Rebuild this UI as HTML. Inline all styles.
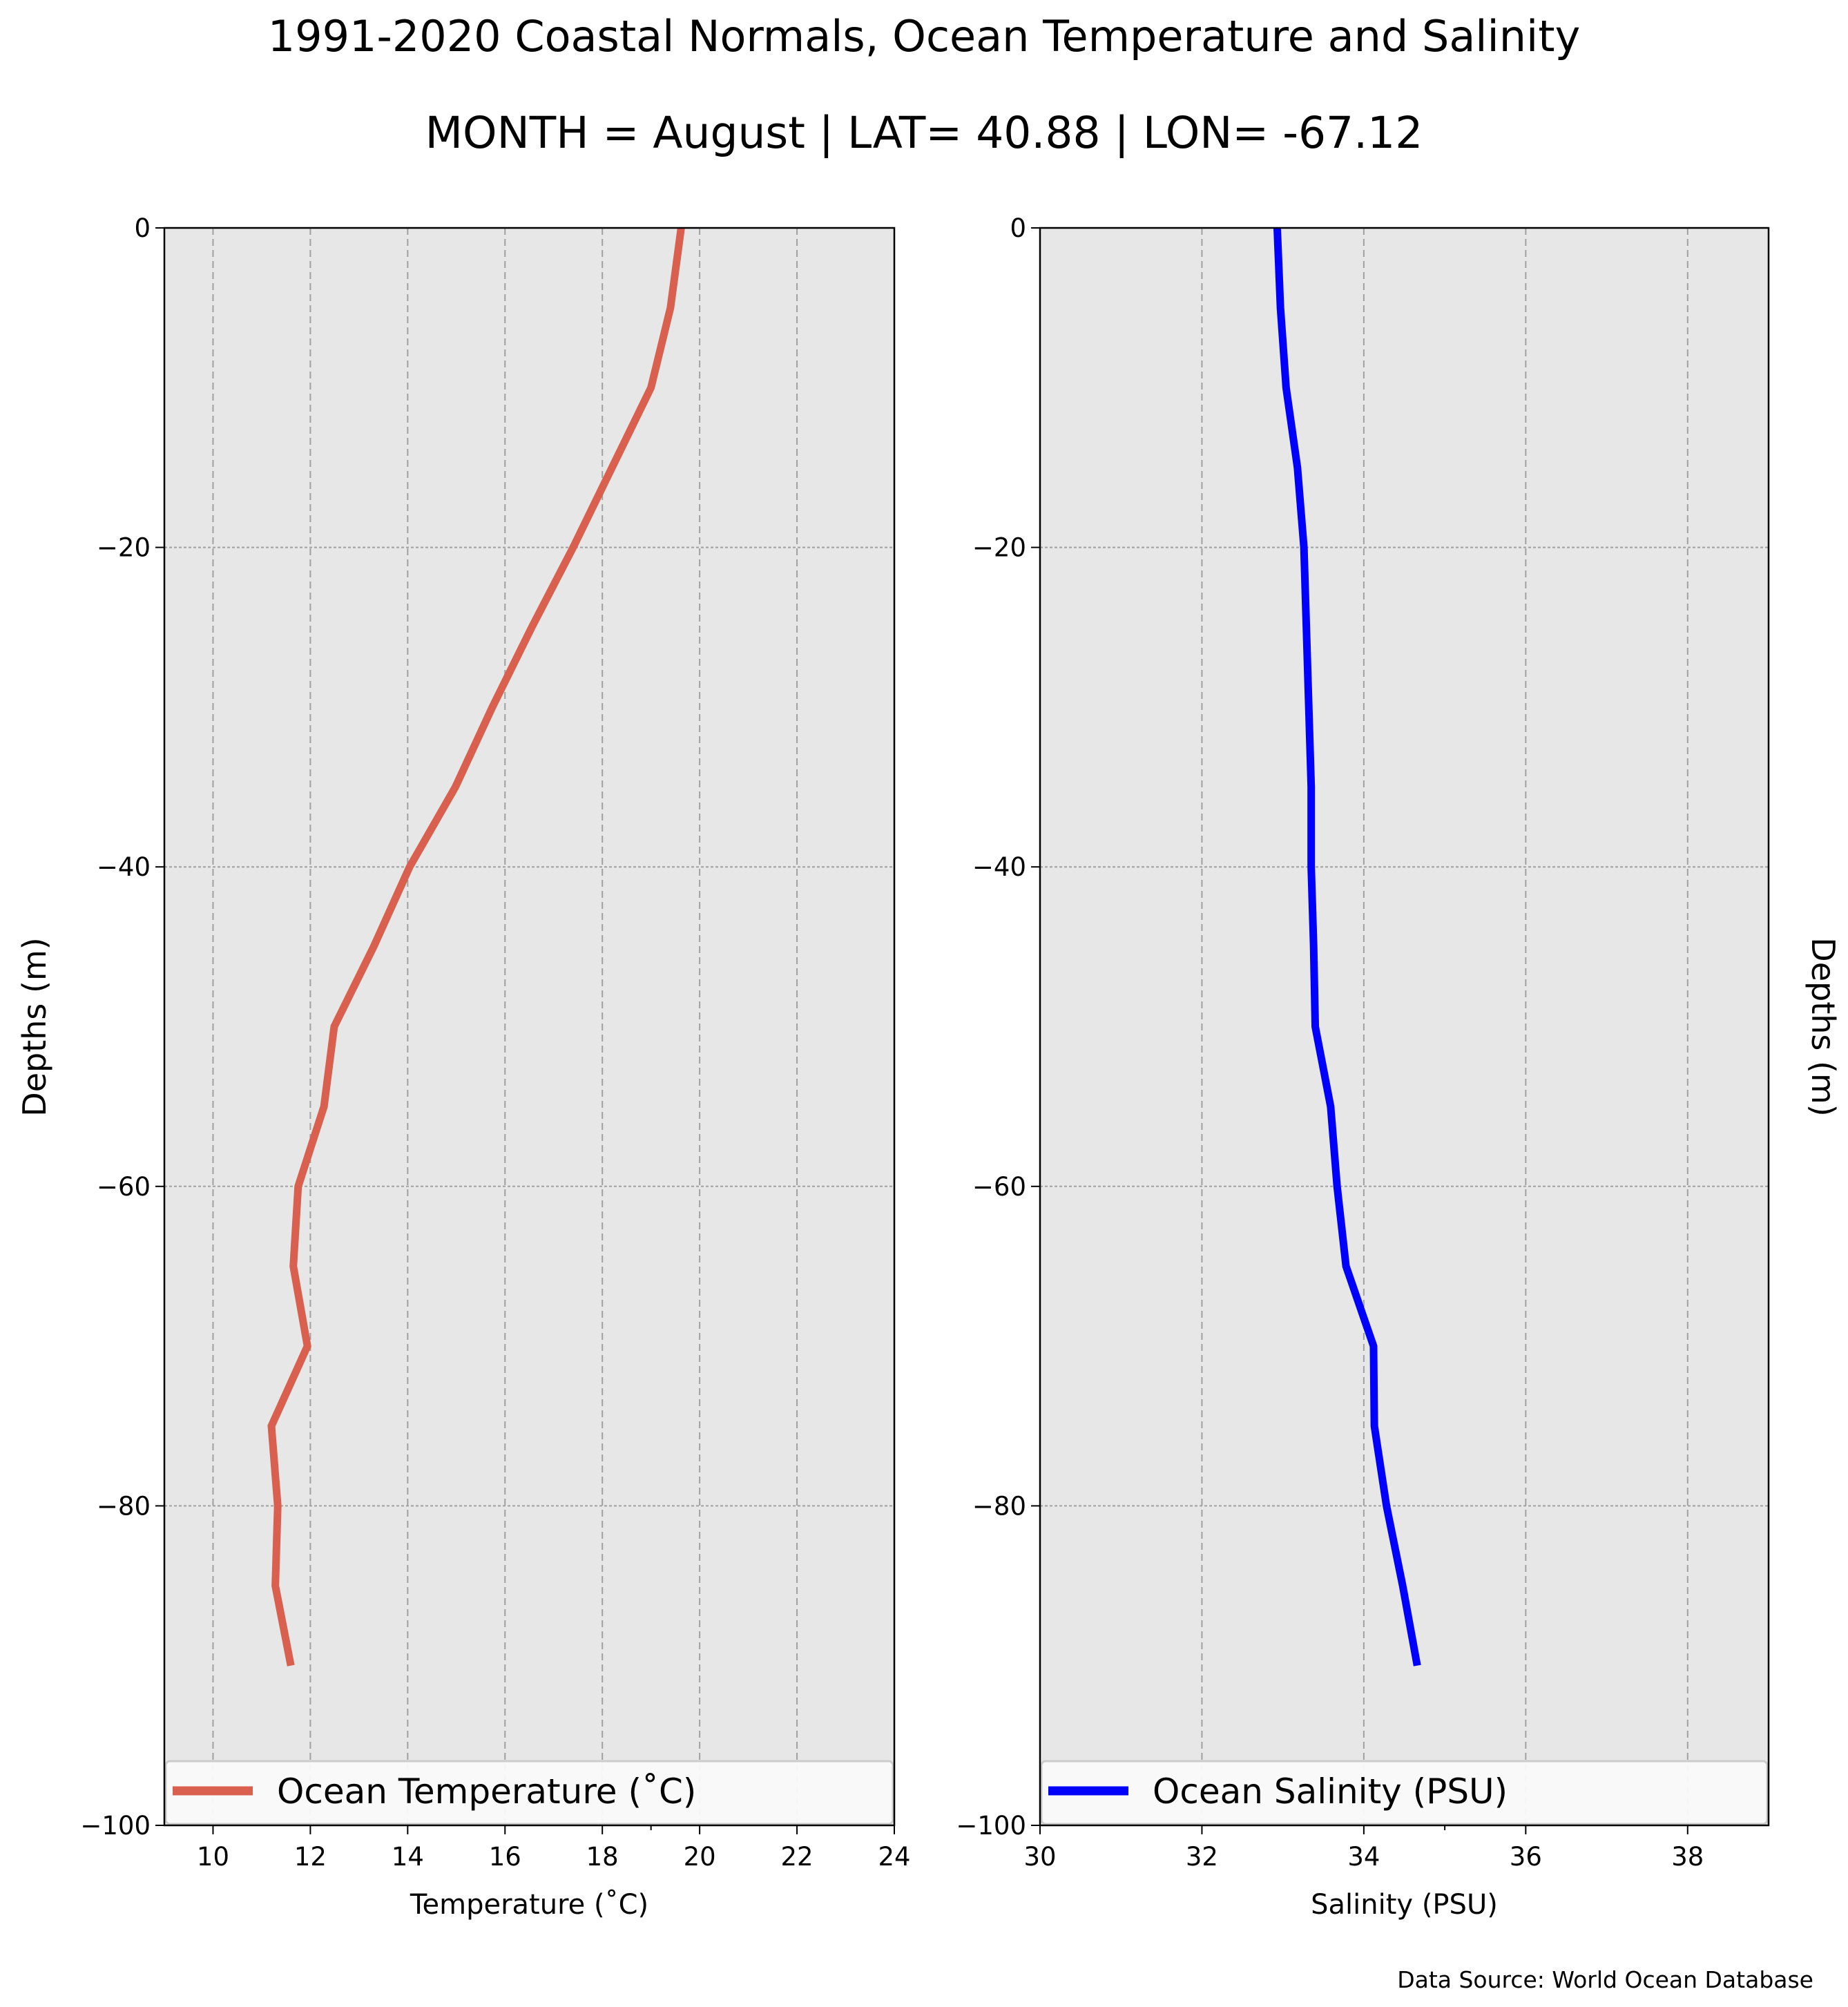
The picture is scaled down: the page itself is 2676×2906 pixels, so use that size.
<!DOCTYPE html>
<html><head><meta charset="utf-8"><style>
html,body{margin:0;padding:0;background:#fff}
svg text{font-family:"DejaVu Sans","Liberation Sans",sans-serif;fill:#000}
</style></head><body>
<svg id="c" width="2676" height="2901" viewBox="0 0 2676 2901" xmlns="http://www.w3.org/2000/svg">
<text x="1338" y="74" font-size="62" text-anchor="middle">1991-2020 Coastal Normals, Ocean Temperature and Salinity</text>
<text x="1338" y="214" font-size="63" text-anchor="middle">MONTH = August | LAT= 40.88 | LON= -67.12</text>
<text x="2626" y="2878" font-size="33" text-anchor="end">Data Source: World Ocean Database</text>
</svg>
<script>
const depths = [0,-5,-10,-15,-20,-25,-30,-35,-40,-45,-50,-55,-60,-65,-70,-75,-80,-85,-90];
const temperature = [19.62,19.4,19.0,18.2,17.4,16.55,15.74,14.98,14.04,13.3,12.49,12.28,11.75,11.65,11.94,11.2,11.33,11.28,11.6];
const salinity = [32.93,32.97,33.04,33.18,33.26,33.29,33.32,33.35,33.35,33.38,33.40,33.59,33.67,33.78,34.12,34.13,34.28,34.48,34.66];
const depthTicks = [0,-20,-40,-60,-80,-100];
const tempTicks = [10,12,14,16,18,20,22,24];
const salTicks = [30,32,34,36,38];

const NS='http://www.w3.org/2000/svg';
const svgEl=document.getElementById('c');
function mk(tag,attrs,parent){const e=document.createElementNS(NS,tag);for(const k in attrs)e.setAttribute(k,attrs[k]);(parent||svgEl).appendChild(e);return e;}
const yTop=330,yBot=2643;
const yS=d=>yTop+(0-d)/100*(yBot-yTop);

function panel(p){
  const g=mk('g',{});
  
  
  const xS=v=>p.x0+(v-p.min)/(p.max-p.min)*(p.x1-p.x0);
  const bg=mk('rect',{x:p.x0,y:yTop,width:p.x1-p.x0,height:yBot-yTop,fill:'#e7e7e7'},g);
  
  
  p.ticks.forEach(t=>{
    const x=xS(t);
    const gl=mk('line',{x1:x,x2:x,y1:yTop,y2:yBot,stroke:'#a0a0a0','stroke-width':2,'stroke-dasharray':'10,6'},g);
    
    
    mk('line',{x1:x,x2:x,y1:yBot,y2:yBot+13,stroke:'#000','stroke-width':2},g);
    const tl=mk('text',{x:x,y:yBot+58,'font-size':37,'text-anchor':'middle'},g);
    tl.textContent=t;
    
    
  });
  const mx=xS(p.minor);
  mk('line',{x1:mx,x2:mx,y1:yBot,y2:yBot+7,stroke:'#000','stroke-width':2},g);
  depthTicks.forEach(d=>{
    const y=yS(d);
    if(d!==0&&d!==-100){
      const gl=mk('line',{x1:p.x0,x2:p.x1,y1:y,y2:y,stroke:'#a0a0a0','stroke-width':2,'stroke-dasharray':'4,3'},g);
      
      
    }
    mk('line',{x1:p.x0-13,x2:p.x0,y1:y,y2:y,stroke:'#000','stroke-width':2},g);
    const tl=mk('text',{x:p.x0-20,y:y+13,'font-size':37,'text-anchor':'end'},g);
    tl.textContent=d===0?'0':'\u2212'+(-d);
    
    
  });
  const pts=depths.map((d,i)=>xS(p.vals[i])+','+yS(d)).join(' ');
  const line=mk('polyline',{points:pts,fill:'none',stroke:p.color,'stroke-width':11,'stroke-linejoin':'miter'},g);
  
  
  const lg=mk('g',{},g);
  
  
  mk('rect',{x:p.x0+2,y:2550,width:p.x1-p.x0-4,height:91,rx:6,fill:'#fafafa',stroke:'#cccccc','stroke-width':3,'fill-opacity':0.95},lg);
  mk('line',{x1:p.x0+12,x2:p.x0+128,y1:2593,y2:2593,stroke:p.color,'stroke-width':13},lg);
  const lt=mk('text',{x:p.x0+163,y:2611,'font-size':50},lg);
  lt.textContent=p.legend;
  
  
  const fr=mk('rect',{x:p.x0,y:yTop,width:p.x1-p.x0,height:yBot-yTop,fill:'none',stroke:'#000','stroke-width':2.5},g);
  
  
  const xl=mk('text',{x:(p.x0+p.x1)/2,y:2771,'font-size':40,'text-anchor':'middle'},g);
  xl.textContent=p.xlabel;
  
  
}
panel({name:'temperature',x0:238,x1:1295,min:9,max:24,ticks:tempTicks,minor:19,vals:temperature,color:'#d95f4e',legend:'Ocean Temperature (\u02DAC)',xlabel:'Temperature (\u02DAC)'});
panel({name:'salinity',x0:1506,x1:2561,min:30,max:39,ticks:salTicks,minor:35,vals:salinity,color:'#0000ff',legend:'Ocean Salinity (PSU)',xlabel:'Salinity (PSU)'});

const yl=mk('text',{x:0,y:0,'font-size':46,'text-anchor':'middle',transform:'translate(66,1487) rotate(-90)'});
yl.textContent='Depths (m)';


const yr=mk('text',{x:0,y:0,'font-size':46,'text-anchor':'middle',transform:'translate(2624,1487) rotate(90)'});
yr.textContent='Depths (m)';


</script>
</body></html>
